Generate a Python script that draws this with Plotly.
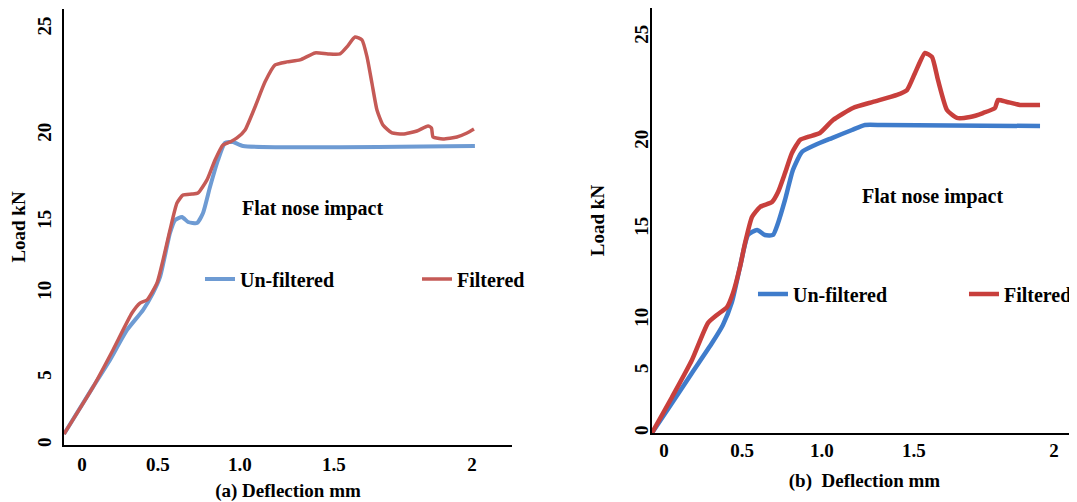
import plotly.graph_objects as go

# ---------------- Panel (a) data (deflection mm, load kN as drawn) ----------------
A_DEFL_UNF = [-0.114, 0.070, 0.177, 0.285, 0.386, 0.449, 0.494, 0.557, 0.589, 0.633,
              0.671, 0.728, 0.766, 0.810, 0.861, 0.905, 0.956, 1.019, 2.487]
A_LOAD_UNF = [0.66, 3.49, 5.11, 6.91, 8.11, 9.13, 10.10, 12.74, 13.52, 13.70,
              13.40, 13.34, 13.94, 15.50, 17.13, 18.15, 18.21, 17.97, 17.97]

A_DEFL_FILT = [-0.114, 0.070, 0.196, 0.316, 0.367, 0.411, 0.475, 0.513, 0.557, 0.601,
               0.639, 0.696, 0.734, 0.791, 0.842, 0.892, 0.937, 0.981, 1.032, 1.095,
               1.158, 1.222, 1.297, 1.380, 1.475, 1.557, 1.633, 1.677, 1.728, 1.772,
               1.804, 1.835, 1.867, 1.905, 1.962, 2.032, 2.120, 2.190, 2.212, 2.222,
               2.285, 2.373, 2.437, 2.481]
A_LOAD_FILT = [0.66, 3.49, 5.71, 7.93, 8.53, 8.71, 9.74, 11.12, 12.92, 14.54,
               15.02, 15.08, 15.14, 15.93, 17.13, 18.03, 18.21, 18.45, 18.93, 20.31,
               21.81, 22.84, 23.02, 23.14, 23.56, 23.50, 23.50, 23.92, 24.52, 24.34,
               23.32, 21.75, 20.13, 19.23, 18.75, 18.69, 18.87, 19.17, 19.05, 18.51,
               18.39, 18.51, 18.75, 18.99]

# ---------------- Panel (b) data ----------------
B_DEFL_UNF = [-0.076, 0.051, 0.177, 0.304, 0.373, 0.430, 0.481, 0.532, 0.589, 0.639,
              0.690, 0.722, 0.766, 0.816, 0.873, 0.956, 1.063, 1.190, 1.272, 1.386, 2.380]
B_LOAD_UNF = [0.0, 1.89, 3.79, 5.68, 6.82, 8.27, 10.48, 12.50, 12.82, 12.50,
              12.50, 13.26, 14.71, 16.60, 17.74, 18.18, 18.62, 19.13, 19.44, 19.44, 19.38]

B_DEFL_FILT = [-0.076, 0.051, 0.177, 0.278, 0.335, 0.399, 0.437, 0.481, 0.513, 0.557,
               0.608, 0.684, 0.722, 0.766, 0.810, 0.861, 0.911, 0.987, 1.070, 1.196,
               1.323, 1.475, 1.538, 1.589, 1.652, 1.696, 1.734, 1.791, 1.854, 1.937,
               2.019, 2.095, 2.114, 2.171, 2.253, 2.380]
B_LOAD_FILT = [0.0, 2.27, 4.61, 6.94, 7.45, 7.95, 8.84, 10.48, 11.99, 13.64,
               14.27, 14.58, 15.21, 16.41, 17.68, 18.50, 18.69, 18.94, 19.76, 20.52,
               20.90, 21.34, 21.65, 22.73, 23.99, 23.74, 22.29, 20.39, 19.89, 19.95,
               20.20, 20.52, 21.02, 20.90, 20.71, 20.71]

# ---------------- Tick labels (placed where the original figure prints them) ----------------
X_TICK_TEXT = ["0", "0.5", "1.0", "1.5", "2"]
Y_TICK_TEXT = ["0", "5", "10", "15", "20", "25"]
A_X_TICK_AT = [0.0, 0.48, 1.0, 1.595, 2.468]
A_Y_TICK_AT = [0.0, 4.03, 9.13, 13.40, 18.63, 25.0]
B_X_TICK_AT = [0.0, 0.494, 1.0, 1.582, 2.468]
B_Y_TICK_AT = [0.0, 3.91, 7.13, 12.88, 18.37, 25.0]

SERIES_NAMES = ["Un-filtered", "Filtered"]
PANEL_TEXT = "Flat nose impact"
A_XTITLE = "(a) Deflection mm"
B_XTITLE = "(b)  Deflection mm"
YTITLE = "Load kN"

FONT = "Liberation Serif, Times New Roman, serif"

fig = go.Figure()

# Panel (a)
fig.add_trace(go.Scatter(x=A_DEFL_UNF, y=A_LOAD_UNF, mode="lines", name=SERIES_NAMES[0],
                         line=dict(color="#6e9bd3", width=4, shape="spline", smoothing=0.5),
                         xaxis="x", yaxis="y", legend="legend", legendwidth=172))
fig.add_trace(go.Scatter(x=A_DEFL_FILT, y=A_LOAD_FILT, mode="lines", name=SERIES_NAMES[1],
                         line=dict(color="#c55a56", width=3.5, shape="spline", smoothing=0.5),
                         xaxis="x", yaxis="y", legend="legend"))
# Panel (b)
fig.add_trace(go.Scatter(x=B_DEFL_UNF, y=B_LOAD_UNF, mode="lines", name=SERIES_NAMES[0],
                         line=dict(color="#3f7ccb", width=4.5, shape="spline", smoothing=0.5),
                         xaxis="x2", yaxis="y2", legend="legend2", legendwidth=166))
fig.add_trace(go.Scatter(x=B_DEFL_FILT, y=B_LOAD_FILT, mode="lines", name=SERIES_NAMES[1],
                         line=dict(color="#c83f3c", width=4.5, shape="spline", smoothing=0.5),
                         xaxis="x2", yaxis="y2", legend="legend2"))

tickfont = dict(family=FONT, size=19, color="black", weight="bold")
titlefont = dict(family=FONT, size=19, color="black", weight="bold")
base = dict(showgrid=False, zeroline=False, showline=True, linecolor="black", linewidth=2,
            ticks="", tickmode="array", tickfont=tickfont, automargin=False)
legfont = dict(family=FONT, size=20, color="black", weight="bold")

fig.update_layout(
    width=1069, height=494,
    margin=dict(l=0, r=0, t=0, b=0),
    paper_bgcolor="white", plot_bgcolor="white",
    xaxis=dict(base, domain=[0.0524, 0.4715], range=[-0.114, 2.722], anchor="y",
               tickvals=A_X_TICK_AT, ticktext=X_TICK_TEXT, ticklabelstandoff=1,
               title=dict(text=A_XTITLE, font=titlefont, standoff=17)),
    yaxis=dict(base, domain=[0.1154, 0.998], range=[0, 26.2], anchor="x",
               tickvals=A_Y_TICK_AT, ticktext=Y_TICK_TEXT, tickangle=-90, ticklabelstandoff=3,
               title=dict(text=YTITLE, font=titlefont, standoff=4)),
    xaxis2=dict(base, domain=[0.6024, 1.0], range=[-0.076, 2.614], anchor="y2",
                tickvals=B_X_TICK_AT, ticktext=X_TICK_TEXT, ticklabelstandoff=-1,
                title=dict(text=B_XTITLE, font=titlefont, standoff=14)),
    yaxis2=dict(base, domain=[0.1397, 1.0], range=[0, 26.83], anchor="x2",
                tickvals=B_Y_TICK_AT, ticktext=Y_TICK_TEXT, tickangle=-90, ticklabelstandoff=-6,
                title=dict(text=YTITLE, font=titlefont, standoff=22)),
    legend=dict(x=0.1796, y=0.4514, xanchor="left", yanchor="middle", orientation="h",
                bgcolor="rgba(0,0,0,0)", font=legfont),
    legend2=dict(x=0.6969, y=0.4211, xanchor="left", yanchor="middle", orientation="h",
                 bgcolor="rgba(0,0,0,0)", font=legfont),
    annotations=[
        dict(text=PANEL_TEXT, x=1.0, y=14.24, xref="x", yref="y", xanchor="left",
             yanchor="middle", showarrow=False, font=legfont),
        dict(text=PANEL_TEXT, x=1.24, y=14.9, xref="x2", yref="y2", xanchor="left",
             yanchor="middle", showarrow=False, font=legfont),
    ],
)

fig.write_html("out.html")
